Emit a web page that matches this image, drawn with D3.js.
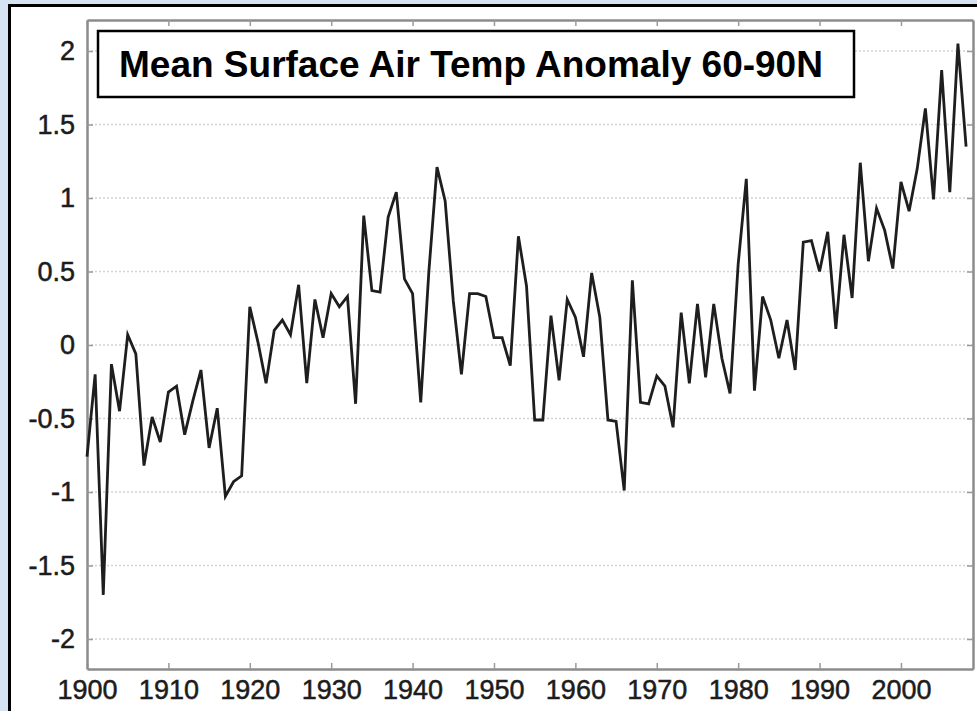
<!DOCTYPE html>
<html>
<head>
<meta charset="utf-8">
<script src="https://cdn.jsdelivr.net/npm/d3@7"></script>
<style>
  body { margin: 0; background: #d5e3f3; }
  svg { display: block; }
</style>
</head>
<body>
<div id="chart"></div>
<script>
// annual anomaly, 60-90N
var years = d3.range(1900, 2009);
var anomaly = [
  -0.76, -0.20, -1.70, -0.13, -0.45, 0.07, -0.06, -0.82, -0.49, -0.66,
  -0.32, -0.28, -0.61, -0.38, -0.17, -0.70, -0.43, -1.03, -0.93, -0.89,
  0.26, 0.02, -0.26, 0.10, 0.17, 0.07, 0.41, -0.26, 0.31, 0.05,
  0.35, 0.26, 0.33, -0.40, 0.88, 0.37, 0.36, 0.87, 1.04, 0.45,
  0.35, -0.39, 0.50, 1.21, 0.98, 0.30, -0.20, 0.35, 0.35, 0.33,
  0.05, 0.05, -0.14, 0.74, 0.40, -0.51, -0.51, 0.20, -0.24, 0.31,
  0.19, -0.08, 0.49, 0.19, -0.51, -0.52, -0.99, 0.44, -0.39, -0.40,
  -0.21, -0.28, -0.56, 0.22, -0.26, 0.28, -0.22, 0.28, -0.09, -0.33,
  0.55, 1.13, -0.31, 0.33, 0.17, -0.09, 0.17, -0.17, 0.70, 0.71,
  0.50, 0.77, 0.11, 0.75, 0.32, 1.24, 0.57, 0.93, 0.78, 0.52,
  1.11, 0.91, 1.20, 1.61, 0.99, 1.87, 1.04, 2.05, 1.35
];
var xTicks = d3.range(1900, 2001, 10);
var yTicks = [-2, -1.5, -1, -0.5, 0, 0.5, 1, 1.5, 2];
var title = "Mean Surface Air Temp Anomaly 60-90N";

var W = 977, H = 711;
// plot frame edges (window.top is taken, so prefixed names)
var pL = 87, pR = 973, pT = 20, pB = 669;

var svg = d3.select("#chart").append("svg")
    .attr("width", W)
    .attr("height", H);

// white panel with black edge
svg.append("rect")
    .attr("x", 9.5).attr("y", 5.5)
    .attr("width", W).attr("height", H)
    .attr("fill", "#fff")
    .attr("stroke", "#000")
    .attr("stroke-width", 3);

var x = d3.scaleLinear().domain([1900, 2008.85]).range([pL, pR]);
var y = d3.scaleLinear().domain([-2.204, 2.211]).range([pB, pT]);

// dotted grid
svg.append("g").selectAll("line")
    .data(yTicks)
    .enter()
    .append("line")
    .attr("x1", pL).attr("x2", pR)
    .attr("y1", function (d) { return y(d); })
    .attr("y2", function (d) { return y(d); })
    .attr("stroke", "#d2d2d2")
    .attr("stroke-width", 1.5)
    .attr("stroke-dasharray", "2,2");

var font = "'Liberation Sans', Arial, sans-serif";

function styleAxis(g) {
    g.selectAll(".domain").attr("stroke", "#8c8c8c").attr("stroke-width", 2.5);
    g.selectAll(".tick line").attr("stroke", "#9a9a9a").attr("stroke-width", 1.5);
    // slight stroke to match the heavier, blurred digits of the original
    g.selectAll("text")
        .attr("fill", "#1c1c1c")
        .attr("stroke", "#1c1c1c")
        .attr("stroke-width", 0.5)
        .style("font-family", font)
        .style("font-size", "27px");
}

svg.append("g")
    .attr("transform", "translate(0," + pB + ")")
    .call(d3.axisBottom(x).tickValues(xTicks).tickSize(-6).tickSizeOuter(0)
        .tickPadding(11).tickFormat(function (d) { return String(d); }))
    .call(styleAxis);

svg.append("g")
    .attr("transform", "translate(0," + pT + ")")
    .call(d3.axisTop(x).tickValues(xTicks).tickSize(-6).tickSizeOuter(0).tickFormat(""))
    .call(styleAxis);

svg.append("g")
    .attr("transform", "translate(" + pL + ",0)")
    .call(d3.axisLeft(y).tickValues(yTicks).tickSize(-6).tickSizeOuter(0)
        .tickPadding(12).tickFormat(function (d) { return String(d); }))
    .call(styleAxis);

svg.append("g")
    .attr("transform", "translate(" + pR + ",0)")
    .call(d3.axisRight(y).tickValues(yTicks).tickSize(-6).tickSizeOuter(0).tickFormat(""))
    .call(styleAxis);

// the series
var line = d3.line()
    .x(function (d, i) { return x(years[i]); })
    .y(function (d) { return y(d); });

svg.append("path")
    .datum(anomaly)
    .attr("d", line)
    .attr("fill", "none")
    .attr("stroke", "#1e1e1e")
    .attr("stroke-width", 2.8);

// title box
svg.append("rect")
    .attr("x", 98).attr("y", 31)
    .attr("width", 756).attr("height", 66)
    .attr("fill", "#fff")
    .attr("stroke", "#000")
    .attr("stroke-width", 2.5);

svg.append("text")
    .attr("x", 119).attr("y", 77)
    .attr("fill", "#000")
    .style("font-family", font)
    .style("font-size", "37px")
    .style("font-weight", "bold")
    .text(title);
</script>
</body>
</html>
